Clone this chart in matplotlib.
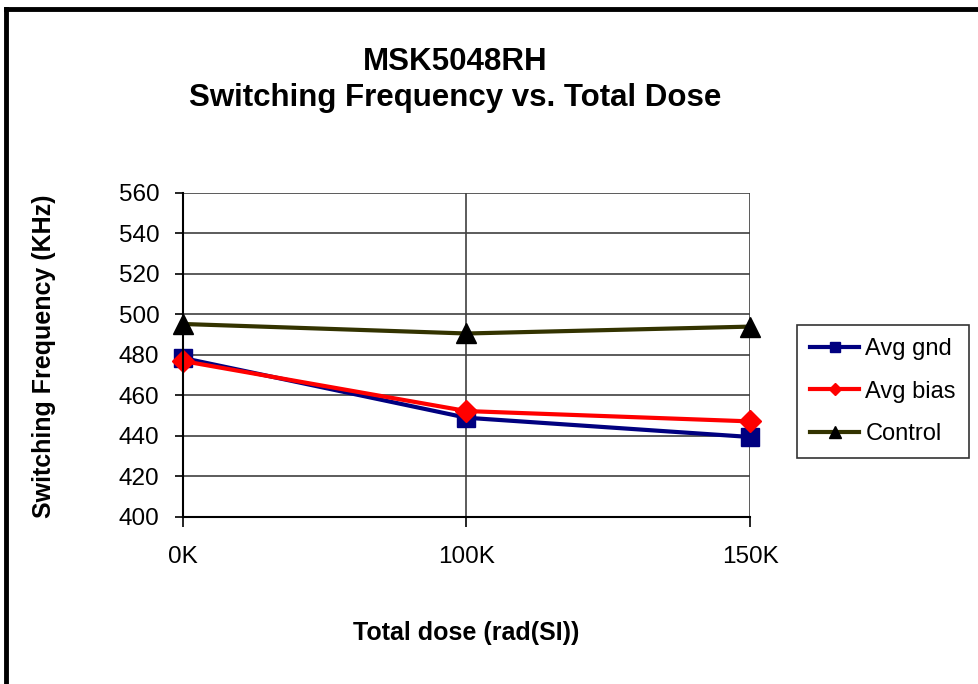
import matplotlib.pyplot as plt
from matplotlib.lines import Line2D

plt.rcParams['font.family'] = ['Liberation Sans', 'DejaVu Sans']

# data
doses = ["0K", "100K", "150K"]
avg_gnd = [478.5, 449.0, 439.5]
avg_bias = [477.0, 452.3, 447.2]
control = [495.3, 490.6, 494.0]

fig = plt.figure(figsize=(9.79, 6.84), dpi=100)
ax = fig.add_axes([0.1869, 0.2442, 0.5792, 0.4737])

x = range(len(doses))
ax.plot(x, avg_gnd, color="#000080", lw=3, marker="s", ms=13, clip_on=False,
        mfc="#000080", mec="#000080", label="Avg gnd", zorder=3)
ax.plot(x, avg_bias, color="#ff0000", lw=3, marker="D", ms=11, clip_on=False,
        mfc="#ff0000", mec="#ff0000", label="Avg bias", zorder=4)
ax.plot(x, control, color="#333300", lw=3, marker="^", ms=14, clip_on=False,
        mfc="black", mec="black", label="Control", zorder=5)

ax.set_xlim(0, len(doses) - 1)
ax.set_ylim(400, 560)
ax.set_xticks(list(x))
ax.set_xticklabels(doses)
ax.set_yticks(range(400, 561, 20))

ax.grid(True, color="#404040", lw=1.2)
ax.set_axisbelow(True)
for s in ["top", "right"]:
    ax.spines[s].set_visible(False)
for s in ["left", "bottom"]:
    ax.spines[s].set_linewidth(1.5)
    ax.spines[s].set_zorder(6)

ax.tick_params(axis="y", direction="out", length=6, width=1.2, labelsize=17.5, pad=11)
ax.tick_params(axis="x", direction="out", length=7, width=1.2, labelsize=17.5, pad=14)

ax.set_xlabel("Total dose (rad(SI))", fontsize=18, fontweight="bold", labelpad=38)
ax.set_ylabel("Switching Frequency (KHz)", fontsize=18, fontweight="bold")
ax.yaxis.set_label_coords(-0.224, 0.495)

fig.text(0.465, 0.910, "MSK5048RH", ha="center", va="center", fontsize=22.5, fontweight="bold")
fig.text(0.465, 0.856, "Switching Frequency vs. Total Dose", ha="center", va="center",
         fontsize=22.5, fontweight="bold")

leg = fig.legend(loc="upper left", bbox_to_anchor=(0.814, 0.525), fontsize=17,
                 frameon=True, fancybox=False, edgecolor="black", handlelength=2.1,
                 labelspacing=0.88, borderpad=0.55, handletextpad=0.25, markerscale=0.6,
                 borderaxespad=0)
leg.get_frame().set_linewidth(1.2)

# outer chart border (left and top edges visible)
fig.add_artist(Line2D([0.0066, 0.0066], [0.0, 0.987], color="black", lw=3.5,
                      transform=fig.transFigure))
fig.add_artist(Line2D([0.0066, 1.0], [0.987, 0.987], color="black", lw=3.5,
                      transform=fig.transFigure))

fig.savefig("out.png", dpi=100)
